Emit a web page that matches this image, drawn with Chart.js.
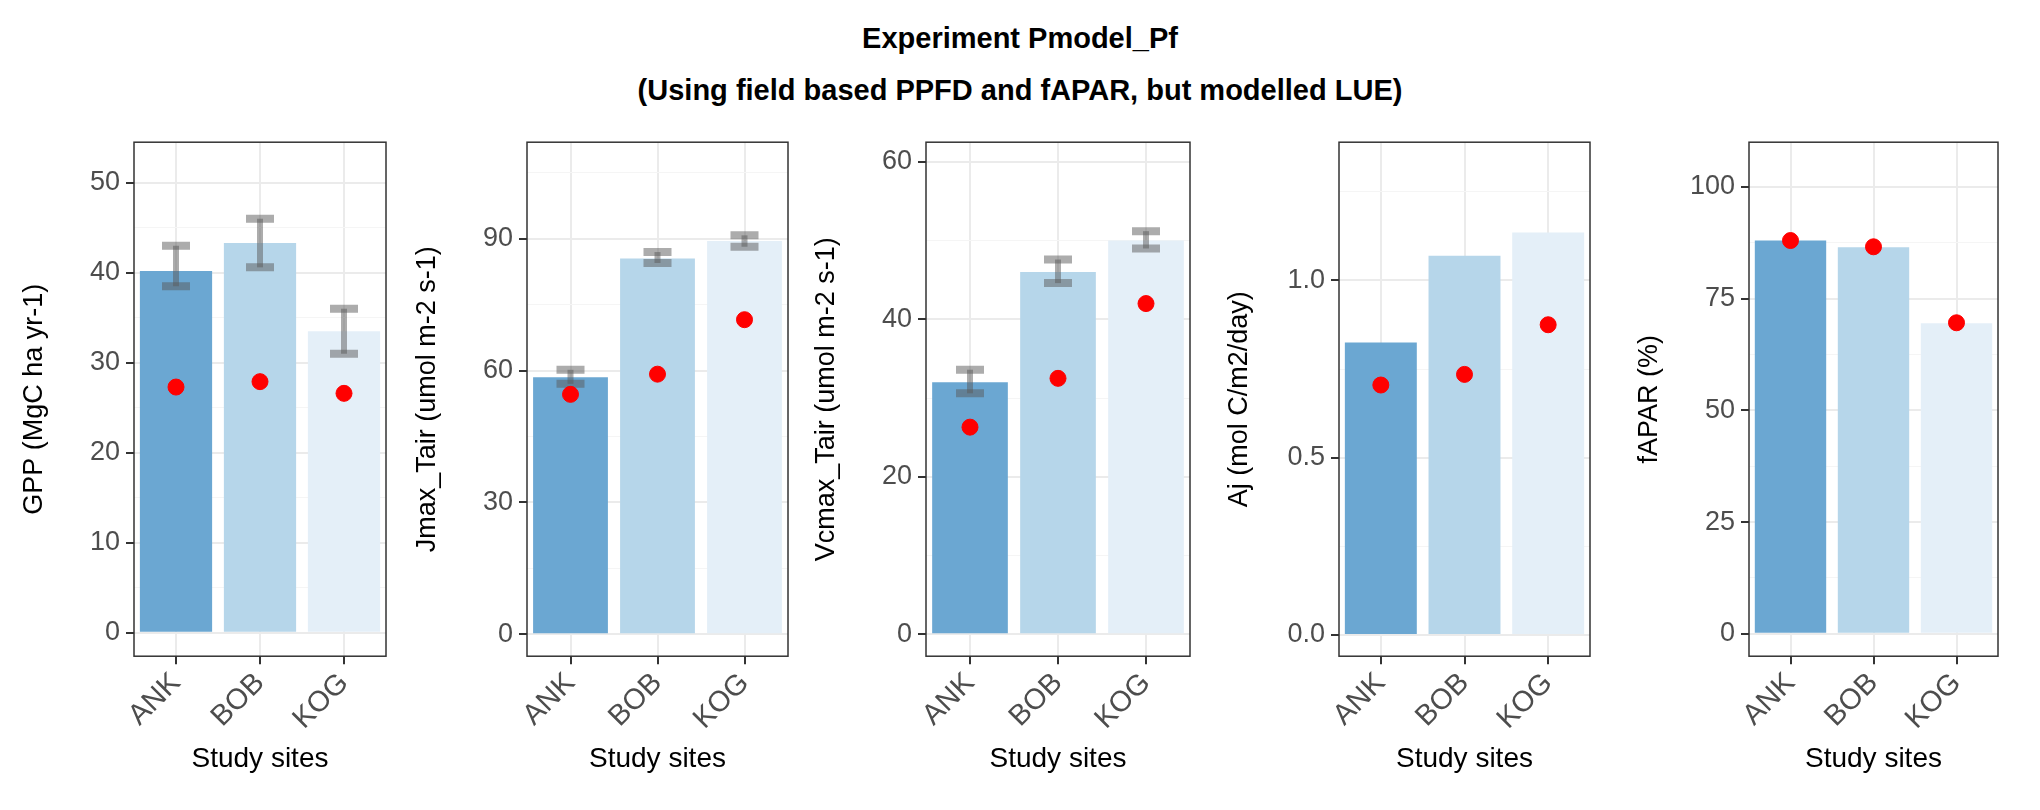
<!DOCTYPE html>
<html>
<head>
<meta charset="utf-8">
<script src="https://cdn.jsdelivr.net/npm/chart.js@4"></script>
<style>
  body { margin: 0; background: #fff; width: 2040px; height: 810px; overflow: hidden; font-family: Arial, 'Liberation Sans', sans-serif; }
  #title { position: absolute; top: 12px; left: 0; width: 2040px; text-align: center; font-weight: bold; font-size: 29px; line-height: 52px; color: #000; }
  .panel { position: absolute; top: 120px; height: 690px; }
</style>
</head>
<body>
<div id="title">Experiment Pmodel_Pf<br>(Using field based PPFD and fAPAR, but modelled LUE)</div>

<script>
// ---- data ----
const sites = ['ANK', 'BOB', 'KOG'];
const barColors = ['#6BA7D2', '#B6D6EA', '#E4EFF8'];

const gppBars = [40.2, 43.3, 33.5];
const gppLow = [38.5, 40.6, 31.0];
const gppHigh = [43.0, 46.0, 36.0];
const gppModel = [27.3, 27.9, 26.6];

const jmaxBars = [58.5, 85.5, 89.5];
const jmaxLow = [57.0, 84.5, 88.2];
const jmaxHigh = [60.2, 87.0, 90.8];
const jmaxModel = [54.6, 59.2, 71.6];

const vcmaxBars = [32.0, 46.0, 50.0];
const vcmaxLow = [30.6, 44.6, 49.0];
const vcmaxHigh = [33.6, 47.6, 51.2];
const vcmaxModel = [26.3, 32.5, 42.0];

const ajBars = [0.825, 1.07, 1.135];
const ajModel = [0.705, 0.735, 0.875];

const faparBars = [88.0, 86.5, 69.5];
const faparModel = [88.0, 86.6, 69.6];

const panels = [
  { left: 134, right: 386, title: 'GPP (MgC ha yr-1)', bars: gppBars, lo: gppLow, hi: gppHigh, model: gppModel,
    min: -2.6, max: 54.5, major: [0, 10, 20, 30, 40, 50], minor: [5, 15, 25, 35, 45], dec: 0 },
  { left: 527, right: 788, title: 'Jmax_Tair (umol m-2 s-1)', bars: jmaxBars, lo: jmaxLow, hi: jmaxHigh, model: jmaxModel,
    min: -5, max: 112, major: [0, 30, 60, 90], minor: [15, 45, 75, 105], dec: 0 },
  { left: 926, right: 1190, title: 'Vcmax_Tair (umol m-2 s-1)', bars: vcmaxBars, lo: vcmaxLow, hi: vcmaxHigh, model: vcmaxModel,
    min: -2.8, max: 62.5, major: [0, 20, 40, 60], minor: [10, 30, 50], dec: 0 },
  { left: 1339, right: 1590, title: 'Aj (mol C/m2/day)', bars: ajBars, lo: null, hi: null, model: ajModel,
    min: -0.06, max: 1.39, major: [0, 0.5, 1.0], minor: [0.25, 0.75, 1.25], dec: 1 },
  { left: 1749, right: 1998, title: 'fAPAR (%)', bars: faparBars, lo: null, hi: null, model: faparModel,
    min: -5, max: 110, major: [0, 25, 50, 75, 100], minor: [12.5, 37.5, 62.5, 87.5], dec: 0 }
];

const AXIS_W = 120;
const PAD_L = 10;

// error bars + panel frame
const extras = {
  id: 'extras',
  beforeDatasetDraw(chart, args) {
    if (args.index !== 1) return;
    const p = chart.options.plugins.extras;
    if (!p.lo) return;
    const c = chart.ctx, x = chart.scales.x, y = chart.scales.y;
    c.save();
    c.strokeStyle = 'rgba(90,90,90,0.5)';
    p.lo.forEach((lo, i) => {
      const cx = x.getPixelForValue(i);
      const y1 = y.getPixelForValue(lo), y2 = y.getPixelForValue(p.hi[i]);
      c.lineWidth = 6;
      c.beginPath(); c.moveTo(cx, y1); c.lineTo(cx, y2); c.stroke();
      c.lineWidth = 8;
      c.beginPath();
      c.moveTo(cx - 14, y1); c.lineTo(cx + 14, y1);
      c.moveTo(cx - 14, y2); c.lineTo(cx + 14, y2);
      c.stroke();
    });
    c.restore();
  },
  afterDraw(chart) {
    const a = chart.chartArea, c = chart.ctx;
    c.save();
    c.strokeStyle = '#333';
    c.lineWidth = 1.5;
    c.strokeRect(a.left, a.top, a.right - a.left, a.bottom - a.top);
    c.restore();
  }
};

panels.forEach(p => {
  const div = document.createElement('div');
  div.className = 'panel';
  const w = (p.right - p.left) + AXIS_W + PAD_L + 12;
  div.style.left = (p.left - AXIS_W - PAD_L) + 'px';
  div.style.width = w + 'px';
  const cv = document.createElement('canvas');
  div.appendChild(cv);
  document.body.appendChild(div);

  const allTicks = p.major.concat(p.minor).sort((a, b) => a - b);

  new Chart(cv, {
    data: {
      labels: sites,
      datasets: [
        { type: 'bar', data: p.bars, backgroundColor: barColors, barPercentage: 0.86, categoryPercentage: 1, order: 2 },
        { type: 'line', data: p.model, showLine: false, pointRadius: 8, pointHoverRadius: 8,
          pointBackgroundColor: '#FF0000', pointBorderColor: '#FF0000', order: 1 }
      ]
    },
    options: {
      responsive: true,
      maintainAspectRatio: false,
      animation: false,
      layout: { padding: { left: PAD_L, top: 17, right: 12, bottom: 30 } },
      plugins: {
        legend: { display: false },
        tooltip: { enabled: false },
        extras: { lo: p.lo, hi: p.hi }
      },
      scales: {
        x: {
          grid: { color: '#EBEBEB', lineWidth: 2, offset: false, tickColor: '#333', tickLength: 8 },
          border: { display: false },
          ticks: { color: '#4D4D4D', font: { size: 29 }, maxRotation: 45, minRotation: 45, padding: 2 },
          title: { display: true, text: 'Study sites', color: '#000', font: { size: 28 }, padding: { top: 4 } }
        },
        y: {
          min: p.min, max: p.max,
          afterBuildTicks: s => { s.ticks = allTicks.map(v => ({ value: v, major: p.major.includes(v) })); },
          afterFit: s => { s.width = AXIS_W; },
          grid: {
            color: ctx => (ctx.tick && ctx.tick.major) ? '#EBEBEB' : '#F5F5F5',
            lineWidth: ctx => (ctx.tick && ctx.tick.major) ? 2 : 1,
            tickColor: ctx => (ctx.tick && ctx.tick.major) ? '#333' : 'rgba(0,0,0,0)',
            tickLength: 8
          },
          border: { display: false },
          ticks: {
            color: '#4D4D4D', font: { size: 27 }, padding: 6,
            callback: v => p.major.includes(v) ? v.toFixed(p.dec) : ''
          },
          title: { display: true, text: p.title, color: '#000', font: { size: 27 }, padding: { bottom: 4 } }
        }
      }
    },
    plugins: [extras]
  });
});
</script>
</body>
</html>
